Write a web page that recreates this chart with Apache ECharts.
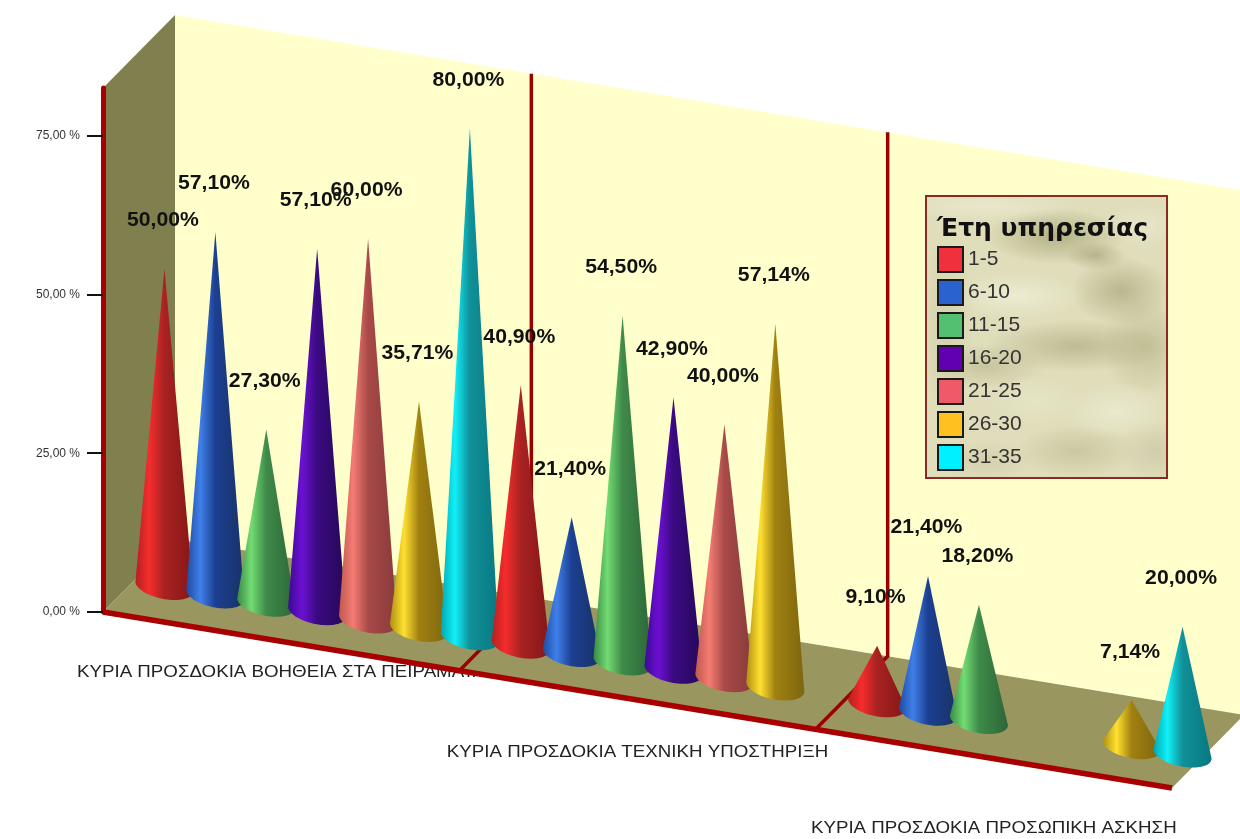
<!DOCTYPE html>
<html>
<head>
<meta charset="utf-8">
<style>html,body{margin:0;padding:0;background:#fff}#c{width:1240px;height:839px}</style>
<script src="https://cdn.jsdelivr.net/npm/echarts@6/dist/echarts.min.js"></script>
</head>
<body>
<div id="c"></div>
<script>
const categories = ['ΚΥΡΙΑ ΠΡΟΣΔΟΚΙΑ ΒΟΗΘΕΙΑ ΣΤΑ ΠΕΙΡΑΜΑΤΑ', 'ΚΥΡΙΑ ΠΡΟΣΔΟΚΙΑ ΤΕΧΝΙΚΗ ΥΠΟΣΤΗΡΙΞΗ', 'ΚΥΡΙΑ ΠΡΟΣΔΟΚΙΑ ΠΡΟΣΩΠΙΚΗ ΑΣΚΗΣΗ'];
const seriesNames = ['1-5', '6-10', '11-15', '16-20', '21-25', '26-30', '31-35'];
const v1to5 = [50.00, 40.90, 9.10];
const v6to10 = [57.10, 21.40, 21.40];
const v11to15 = [27.30, 54.50, 18.20];
const v16to20 = [57.10, 42.90, null];
const v21to25 = [60.00, 40.00, null];
const v26to30 = [35.71, 57.14, 7.14];
const v31to35 = [80.00, null, 20.00];
const yTicks = [0, 25, 50, 75];
const allValues = [v1to5, v6to10, v11to15, v16to20, v21to25, v26to30, v31to35];

const legendColors = ['#f0303c', '#2a62d0', '#52c070', '#6000b0', '#f05a68', '#ffc020', '#00f0ff'];
const coneShades = [
  ['#b52020', '#f62c2c', '#a82222', '#861616'],
  ['#1f4aa0', '#3f80ea', '#1c3f90', '#183268'],
  ['#3a8a45', '#72dc72', '#3f8a4a', '#2c6638'],
  ['#3a0a90', '#6c10d4', '#3a0a80', '#260858'],
  ['#c05850', '#f47c72', '#a84a48', '#883a3a'],
  ['#b09010', '#ffe030', '#a08010', '#7e6610'],
  ['#00a8b0', '#10f0f8', '#109098', '#087880']
];

// projection of the oblique 3D frame
const SLOPE = 0.1646, DEPTH_X = 72, DEPTH_Y = -73, CONE_DX = 36, CONE_DY = -30;
const Y_MAX = 82.5, CONE_R = 29, CONE_RY = 13;
const LABEL_DROP = [31, 53, 70];
const GRID = {left: 103, top: 88, width: 1069, height: 524};

const chart = echarts.init(document.getElementById('c'), null, {renderer: 'canvas'});
const fmt = v => v.toFixed(2).replace('.', ',');

function renderCone(idx, params, api) {
  const cat = api.value(0), val = api.value(1);
  const slotW = api.size([1, 0])[0] / 7;
  const top = api.coord([cat, val]), zero = api.coord([cat, 0]);
  const a = top[0] + (idx - 3) * slotW;
  const h = zero[1] - top[1];
  const cx = a + CONE_DX;
  const cy = zero[1] + SLOPE * (a - GRID.left) + CONE_DY;
  const pts = [[cx, cy - h]];
  for (let i = 0; i <= 40; i++) {
    const t = i / 40 * Math.PI;
    const ex = CONE_R * Math.cos(t), ey = CONE_RY * Math.sin(t);
    pts.push([cx + ex, cy + ey + SLOPE * ex]);
  }
  const s = coneShades[idx];
  return {
    type: 'group',
    children: [
      {
        type: 'polygon', shape: {points: pts}, z2: 10 + (cat * 7 + idx),
        style: {fill: new echarts.graphic.LinearGradient(0, 0, 1, 0, [
          {offset: 0, color: s[0]}, {offset: 0.24, color: s[1]},
          {offset: 0.5, color: s[2]}, {offset: 1, color: s[3]}])}
      },
      {
        type: 'text', z2: 200,
        x: cx - 1.5, y: cy - h - 48, scaleX: 1.06,
        style: {x: 0, y: 0, text: fmt(val) + '%', align: 'center', verticalAlign: 'middle',
          font: 'bold 20px "Liberation Sans", Arial, sans-serif', fill: '#111'}
      }
    ]
  };
}

function renderFrame(params, api) {
  const g = params.coordSys;
  const L = g.x, R = g.x + g.width, T = g.y, B = g.y + g.height;
  const sl = x => SLOPE * (x - L);
  const children = [
    {type: 'polygon', shape: {points: [[L + DEPTH_X, T + DEPTH_Y], [R + DEPTH_X, T + sl(R) + DEPTH_Y], [R + DEPTH_X, B + sl(R) + DEPTH_Y], [L + DEPTH_X, B + DEPTH_Y]]}, style: {fill: '#ffffcc'}},
    {type: 'polygon', shape: {points: [[L, T], [L + DEPTH_X, T + DEPTH_Y], [L + DEPTH_X, B + DEPTH_Y], [L, B]]}, style: {fill: '#80804f'}},
    {type: 'polygon', shape: {points: [[L, B], [R, B + sl(R)], [R + DEPTH_X, B + sl(R) + DEPTH_Y], [L + DEPTH_X, B + DEPTH_Y]]}, style: {fill: '#99965f'}}
  ];
  const band = g.width / categories.length;
  for (let i = 1; i < categories.length; i++) {
    const a = L + band * i;
    children.push({type: 'polyline', z2: 1, shape: {points: [[a, B + sl(a)], [a + DEPTH_X, B + sl(a) + DEPTH_Y], [a + DEPTH_X, T + sl(a) + DEPTH_Y]]},
      style: {fill: null, stroke: '#990000', lineWidth: 3.5}});
  }
  children.push({type: 'line', z2: 2, shape: {x1: L, y1: B, x2: R, y2: B + sl(R)}, style: {stroke: '#a80000', lineWidth: 5.5}});
  return {type: 'group', children};
}

function renderGroupLabel(params, api) {
  const i = api.value(0);
  const p = api.coord([i, 0]);
  return {type: 'text', x: p[0], y: p[1] + SLOPE * (p[0] - GRID.left) + LABEL_DROP[i], scaleX: 1.17,
    style: {x: 0, y: 0, text: categories[i], align: 'center', verticalAlign: 'middle',
    font: '16px "Liberation Sans", Arial, sans-serif', fill: '#222'}};
}

// cloudy legend background
function legendTexture(w, h) {
  const c = document.createElement('canvas'); c.width = w; c.height = h;
  const x = c.getContext('2d');
  x.fillStyle = '#dfddba'; x.fillRect(0, 0, w, h);
  const blots = [
    [130, 40, 70, 28, '#8f8d5a', .55], [195, 95, 50, 34, '#9a9868', .55], [60, 10, 90, 16, '#f0efd8', .6],
    [215, 30, 40, 22, '#f0efd8', .5], [90, 100, 70, 24, '#f3f2dc', .7], [150, 150, 90, 26, '#a3a172', .55],
    [60, 170, 60, 22, '#aaa87c', .45], [220, 150, 45, 50, '#a9a778', .5], [190, 215, 55, 28, '#efeed6', .7],
    [110, 205, 45, 26, '#e9e8cc', .6], [150, 255, 60, 26, '#b5b387', .5], [230, 255, 40, 30, '#c2c09a', .5],
    [60, 265, 50, 20, '#c5c3a0', .5], [20, 130, 30, 90, '#c9c7a2', .5], [170, 60, 30, 14, '#7f7d4e', .4]
  ];
  blots.forEach(b => {
    x.save(); x.translate(b[0], b[1]); x.scale(b[2], b[3]);
    const g = x.createRadialGradient(0, 0, 0, 0, 0, 1);
    g.addColorStop(0, b[4]); g.addColorStop(1, b[4] + '00');
    x.globalAlpha = b[5]; x.fillStyle = g;
    x.beginPath(); x.arc(0, 0, 1, 0, Math.PI * 2); x.fill(); x.restore();
  });
  return c;
}

chart.setOption({
  animation: false,
  backgroundColor: '#ffffff',
  grid: GRID,
  tooltip: {show: false},
  xAxis: {type: 'category', data: categories, show: false},
  yAxis: {
    type: 'value', min: 0, max: Y_MAX, z: 10,
    splitLine: {show: false},
    axisLine: {show: true, lineStyle: {color: '#a80000', width: 5}},
    axisTick: {show: true, length: 16, customValues: yTicks, lineStyle: {color: '#111', width: 2}},
    axisLabel: {show: true, customValues: yTicks, margin: 23, formatter: v => fmt(v) + ' %', color: '#333', fontSize: 12, fontFamily: '"Liberation Sans", Arial, sans-serif'}
  },
  legend: {
    data: seriesNames, orient: 'vertical', left: 937, top: 246, padding: 0, itemWidth: 25, itemHeight: 25, itemGap: 6, icon: 'rect', z: 6,
    selectedMode: false,
    itemStyle: {borderColor: '#1a1a1a', borderWidth: 2},
    textStyle: {fontSize: 21, color: '#333', fontFamily: '"Liberation Sans", Arial, sans-serif'}
  },
  graphic: [
    {type: 'image', z: 4, style: {x: 926, y: 196, image: legendTexture(241, 282), width: 241, height: 282}},
    {type: 'rect', z: 4, shape: {x: 926, y: 196, width: 241, height: 282}, style: {fill: null, stroke: '#8b2a20', lineWidth: 2}},
    {type: 'text', z: 5, style: {x: 937, y: 217, text: 'Έτη υπηρεσίας', font: 'bold 25px "DejaVu Sans", sans-serif', fill: '#111'}}
  ],
  series: [
    {type: 'custom', name: '_labels', z: 1, silent: true, coordinateSystem: 'cartesian2d', data: categories.map((c, i) => [i, 0]), renderItem: renderGroupLabel},
    {type: 'custom', name: '_frame', z: 2, silent: true, coordinateSystem: 'cartesian2d', data: [[0, 0]], renderItem: renderFrame},
    ...seriesNames.map((name, idx) => ({
      type: 'custom', name, z: 3, silent: true, coordinateSystem: 'cartesian2d',
      itemStyle: {color: legendColors[idx]},
      encode: {x: 0, y: 1},
      data: allValues[idx].map((v, c) => [c, v]).filter(d => d[1] !== null),
      renderItem: (params, api) => renderCone(idx, params, api)
    }))
  ]
});
</script>
</body>
</html>
